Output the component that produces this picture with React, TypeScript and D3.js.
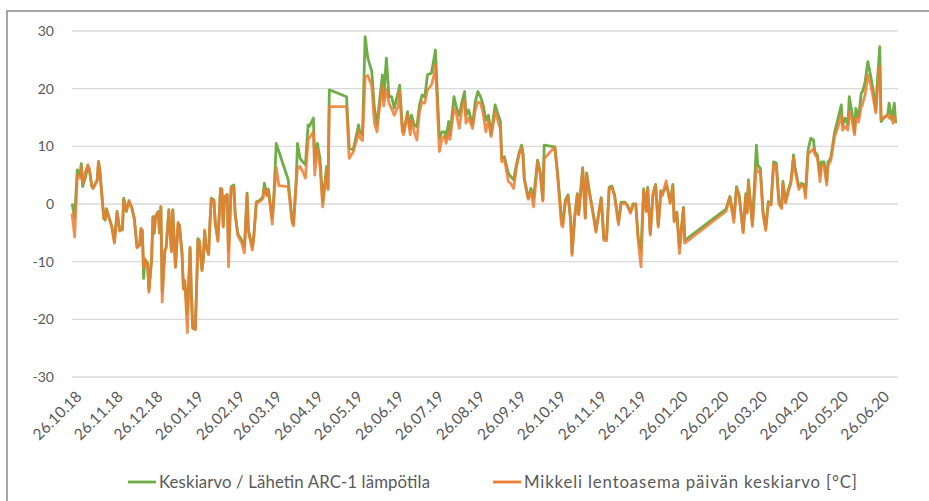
import React from 'react';
import * as d3 from 'd3';

// day offsets from 26.10.2018
const startDate = new Date(2018, 9, 26);
const days = [
  0, 2, 4, 6, 7, 8, 10, 12, 13, 15,
  16, 19, 20, 21, 24, 25, 26, 27, 30, 32,
  34, 36, 38, 39, 41, 43, 45, 47, 49, 51,
  52, 53, 54, 55, 57, 58, 60, 61, 62, 63,
  65, 66, 67, 68, 70, 71, 73, 74, 75, 76,
  78, 80, 81, 83, 84, 85, 87, 89, 90, 91,
  93, 95, 96, 98, 99, 100, 101, 103, 104, 105,
  107, 108, 110, 112, 113, 114, 115, 117, 118, 120,
  122, 123, 125, 128, 130, 132, 133, 136, 137, 139,
  142, 144, 145, 147, 148, 151, 152, 154, 156, 163,
  166, 167, 169, 170, 172, 174, 176, 178, 179, 182,
  183, 185, 187, 189, 192, 193, 194, 207, 209, 212,
  215, 216, 217, 219, 221, 223, 226, 228, 230, 231,
  234, 235, 237, 239, 241, 243, 246, 247, 249, 250,
  253, 255, 256, 258, 260, 262, 264, 266, 268, 271,
  273, 274, 277, 279, 281, 282, 284, 285, 288, 290,
  292, 294, 296, 297, 299, 302, 304, 306, 308, 310,
  312, 314, 316, 319, 321, 323, 324, 326, 329, 331,
  333, 335, 337, 339, 340, 341, 344, 346, 348, 351,
  353, 355, 356, 364, 366, 369, 370, 372, 374, 376,
  377, 379, 381, 382, 385, 387, 388, 390, 393, 395,
  399, 401, 403, 405, 407, 409, 412, 414, 417, 419,
  421, 423, 425, 427, 429, 431, 433, 434, 436, 438,
  440, 442, 444, 445, 448, 449, 451, 453, 454, 456,
  458, 461, 462, 493, 496, 499, 501, 503, 506, 508,
  509, 510, 512, 513, 516, 517, 519, 521, 523, 525,
  527, 529, 531, 533, 535, 536, 538, 540, 542, 544,
  545, 548, 550, 552, 553, 555, 557, 559, 560, 562,
  564, 565, 567, 569, 570, 572, 575, 577, 580, 581,
  583, 585, 586, 588, 590, 591, 593, 595, 596, 598,
  600, 602, 604, 606, 607, 609, 610, 612, 615, 616,
  618, 619, 620, 621,
];

const arc1: (number | null)[] = [
  0.1, -2.2, 5.9, 5, 7, 3, 4.5, 6.5, 6.2, 3,
  2.7, 4.2, 7.3, 5.9, -2.5, -2.8, -0.8, -1.6, -3.9, -6.5,
  -1.3, -4.5, -4.5, 1, -1.3, 0.4, -0.5, -2.5, -7.4, -7,
  -4.5, -4.5, -12.9, -9.7, -10.2, -14.9, -9.7, -2.2, -5.1, -2.2,
  -1.3, -5, -0.5, -15.2, -8, -7.5, -1, -5, -8, -1,
  -10.9, -3.4, -3.6, -8.6, -14.6, -13.5, -19, -7.7, -15.5, -21.6,
  -21.6, -6, -6.3, -11.4, -9.7, -4.8, -7.2, -8.6, -3.4, 1,
  0.7, -3.4, -6.2, 2.7, 2.4, -3.9, 1.3, 1.5, -8, 3,
  3.3, -1.6, -5.1, -6.3, -7.4, 1.9, -4.5, -7.4, -5.7, 0.4,
  0.7, 1.3, 3.6, 1.6, 2.6, -2.4, 0.5, 10.5, null, 4.2,
  -2.8, -3.4, 3.9, 10.5, 7.9, 7.3, 6.8, 13.7, 13.5, 14.9,
  7.3, 10.5, 7.9, 0.4, 6.5, 2.7, 19.8, 18.6, 9.7, 9.4,
  12.5, 13.7, 12.5, 12, 29, 25.3, 23, 16.6, 13.7, 16,
  22.4, 18.3, 25.3, 18.6, 18.6, 16.6, 19.5, 20.6, 13.7, 12.5,
  16, 13.1, 15.4, 13.7, 13.4, 17.2, 18.9, 18.6, 22.4, 22.7,
  25.3, 26.7, 11.4, 12.5, 12.5, 11.4, 14.3, 12, 18.6, 16.6,
  15.4, 17.7, 19.5, 15.4, 16.3, 13.7, 17.7, 19.5, 18.6, 17.2,
  14.5, 15.4, 12, 17.2, 15.7, 14.3, 7.9, 8.2, 5.3, 4.7,
  4.2, 6.8, 8.8, 10.2, 8.8, 4.5, 1, 2.7, 1, 7.6,
  5.6, 0.7, 10.2, 9.9, 5.6, -2.5, -3.4, 0.7, 1.6, -2.8,
  -8.6, -2.2, 1.8, -1.7, 6.3, -2.3, 5.4, 2.3, -1.7, -4.6,
  1.1, -6, -6, 2.9, 3.1, 1.7, -3.1, 0.3, 0.3, -0.3,
  -1.4, 0, 0, -6.3, -8, 2.6, -1.1, 2.9, -5.1, 1.7,
  3.4, -3.7, 2.3, 1.7, 3.1, 2.6, 0.3, 3.4, -2.9, -1.4,
  -7.5, -0.6, -6.3, -0.9, 1.3, -2.5, 3, 1.6, -4.8, 1.8,
  -1.3, 4.2, -1, -3.6, 10.2, 6.8, 6.2, -1.3, -4.2, 0.4,
  0, 7.3, 7.1, 0.4, -0.5, 3.9, 0.4, 2.4, 3.9, 8.5,
  6.5, 3, 3.6, 3.3, 1.8, 9.4, 11.4, 11.1, 9.1, 8.5,
  5, 7.3, 7.3, 3.9, 7.3, 7.9, 12.5, 14.3, 17.2, 13.7,
  14.9, 13.7, 18.6, 16, 12.5, 16.6, 14.9, 19.2, 19.5, 21.2,
  24.7, 22.4, 19.8, 16.3, 20.6, 27.3, 14.3, 14.9, 15.4, 17.5,
  14.6, 16, 17.5, 14,
];

const mikkeli: (number | null)[] = [
  -1.6, -5.7, 5, 4.5, 6.5, 3.5, 5.5, 6.8, 6, 3,
  2.8, 4, 7.4, 5.5, -2.5, -2.6, -1, -1.8, -4, -6.8,
  -1.5, -4.7, -4.3, 0.8, -1.1, 0.6, -0.7, -2.7, -7.6, -7.2,
  -4.2, -4.8, -11, -9.5, -10.5, -15.3, -9.5, -2.5, -4.8, -2,
  -1.5, -5, -0.4, -17, -8.2, -7.5, -1.2, -5, -8.3, -1.2,
  -11, -3.2, -3.8, -8.8, -14.8, -13.2, -22.3, -7.5, -15.8, -21.3,
  -21.8, -6.2, -6.5, -11.6, -9.5, -4.5, -7.5, -8.8, -3.2, 0.8,
  0.5, -3.2, -6.5, 2.5, 2.6, -4, 1.1, 1.7, -10.9, 2.8,
  3, -1.8, -5.5, -6.8, -8.5, 1.6, -4.8, -8, -6, 0.2,
  0.5, 1, 2.8, 1.4, 2.4, -3.5, 0.3, 6.3, 3.2, 3,
  -3.3, -3.8, 3.5, 6.2, 6.5, 5.6, 4.5, 11.1, 11.5, 12.5,
  5, 9.5, 6.5, -0.5, 6, 2.5, 16.9, 16.9, 7.9, 9,
  11.5, 12.8, 11.5, 11, 22, 22.3, 20.5, 14, 12.5, 15,
  20.6, 17, 20, 17.5, 16.5, 15.4, 17, 19.5, 12.5, 12,
  15.5, 12, 14.5, 12.5, 11.1, 16, 17.7, 17.5, 19.8, 20.6,
  22.4, 24.1, 9.1, 11.4, 11.8, 10.5, 12.5, 11.2, 16.6, 15.5,
  13.1, 16.5, 18, 14, 15, 13.1, 16.3, 17.7, 17.5, 15.7,
  12.5, 14.5, 11.7, 16, 14.5, 13, 7.3, 7.8, 3.9, 3.5,
  2.7, 6.2, 8.5, 9.8, 8.5, 4.2, 0.8, 2.2, -0.5, 7.2,
  5.3, 0.5, 7.9, 9.9, 5.2, -3.6, -4, 0.4, 1.3, -3,
  -8.9, -2.5, 1.6, -1.9, 6, -2.5, 5.1, 2, -1.9, -4.9,
  1, -6.3, -6.4, 2.6, 2.9, 1.4, -3.6, 0, 0.2, -0.5,
  -1.6, -0.2, 0, -6.6, -10.9, 2.3, -1.3, 2.6, -5.4, 1.5,
  3.2, -4, 2.1, 1.4, 4, 2.6, 0.1, 3.1, -3.1, -1.6,
  -8.6, -0.8, -6.8, -1.3, 1.1, -3.2, 2.6, 1.2, -5, 1.4,
  -1.6, 3.8, -1.4, -3.9, 6.5, 5.6, 5.5, -1.8, -4.6, 0.1,
  -0.2, 6.9, 6.7, 0, -0.8, 3.5, 0.2, 2, 3.6, 8,
  6, 2.5, 3.3, 2.8, 1, 8.8, 9.1, 9.6, 8.6, 8,
  3.9, 6.5, 6.8, 3.3, 6.6, 7.5, 11.7, 13, 15.4, 12.8,
  13.5, 12.8, 16, 14.6, 12, 14.9, 14.2, 16.8, 17.3, 19,
  22.4, 20.8, 18.5, 15.8, 19, 23.8, 14.6, 15, 15.5, 14.9,
  15.2, 14, 15.2, 14.3,
];

const tickLabels = [
  '26.10.18', '26.11.18', '26.12.18', '26.01.19', '26.02.19', '26.03.19', '26.04.19',
  '26.05.19', '26.06.19', '26.07.19', '26.08.19', '26.09.19', '26.10.19', '26.11.19',
  '26.12.19', '26.01.20', '26.02.20', '26.03.20', '26.04.20', '26.05.20', '26.06.20',
];
const yTicks = [30, 20, 10, 0, -10, -20, -30];

const seriesNames = ['Keskiarvo / Lähetin ARC-1 lämpötila', 'Mikkeli lentoasema päivän keskiarvo [°C]'];
const seriesColors = ['#70ad47', '#ed7d31'];

const W = 929;
const H = 501;
const FONT = 'Lato, "Open Sans", sans-serif';

export default function App() {
  const parse = d3.timeParse('%d.%m.%y');
  const dates = days.map(d => d3.timeDay.offset(startDate, d));
  const x = d3.scaleTime()
    .domain([startDate, d3.timeDay.offset(startDate, 622)])
    .range([72, 897]);
  const y = d3.scaleLinear().domain([-30, 30]).range([377, 31]);

  const makeLine = (vals: (number | null)[]) => {
    const pts = dates
      .map((d, i) => [d, vals[i]] as [Date, number | null])
      .filter(p => p[1] !== null) as [Date, number][];
    return d3.line<[Date, number]>()
      .x(p => x(p[0]))
      .y(p => y(p[1]))(pts) || '';
  };

  const series = [arc1, mikkeli];
  // legend: sample line start, text width
  const legendX = [128, 493];
  const legendW = [271, 333];

  return (
    <svg width={W} height={H} style={{ position: 'absolute', left: 0, top: 0, display: 'block', background: '#fff' }}>
      <rect x={7} y={11} width={W + 20} height={H + 20} fill="#fff" stroke="#a6a6a6" strokeWidth={2} />

      {yTicks.map(t => (
        <g key={t}>
          <line x1={72} x2={898} y1={y(t)} y2={y(t)} stroke="#d9d9d9" strokeWidth={1.3} />
          <text x={54} y={y(t)} dy="0.35em" textAnchor="end" fontFamily={FONT} fontSize={14} fill="#595959">{t}</text>
        </g>
      ))}

      {tickLabels.map(lbl => {
        const tx = x(parse(lbl) as Date);
        return (
          <text key={lbl} transform={`translate(${tx + 3},${390}) rotate(-45)`} textAnchor="end"
            dy="0.7em" fontFamily={FONT} fontSize={15.5} fill="#595959">{lbl}</text>
        );
      })}

      {series.map((vals, i) => (
        <path key={i} d={makeLine(vals)} fill="none" stroke={seriesColors[i]}
          strokeWidth={2.8} strokeLinejoin="round" strokeOpacity={i === 1 ? 0.85 : 1} />
      ))}

      {seriesNames.map((name, i) => {
        const lx = legendX[i];
        return (
          <g key={name}>
            <line x1={lx} x2={lx + 28} y1={482} y2={482} stroke={seriesColors[i]} strokeWidth={2.8} />
            <text x={lx + 31} y={482} dy="0.35em" fontFamily={FONT} fontSize={16.8} fill="#595959"
              textLength={legendW[i]} lengthAdjust="spacing">{name}</text>
          </g>
        );
      })}
    </svg>
  );
}
